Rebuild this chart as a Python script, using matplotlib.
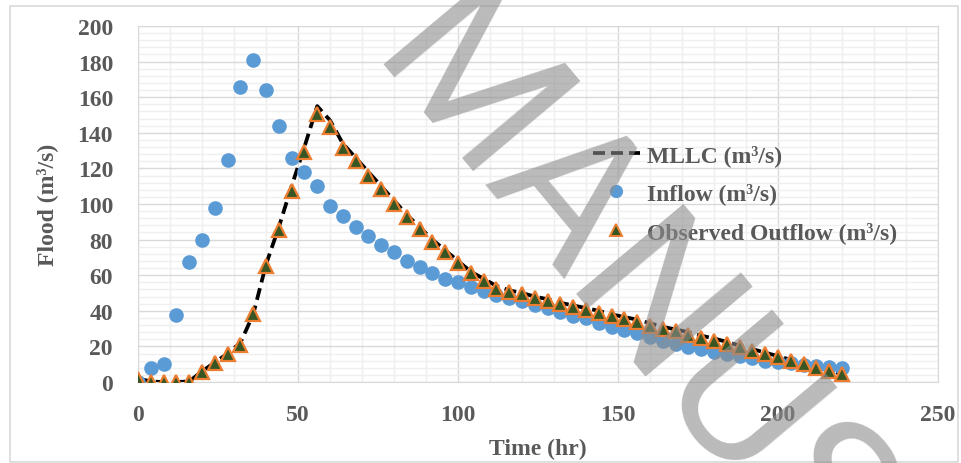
import matplotlib
matplotlib.use("Agg")
import matplotlib.pyplot as plt
from matplotlib.lines import Line2D
from matplotlib.patches import Rectangle
from matplotlib.ticker import MultipleLocator


# temps (hr), pas de 4 h
time = list(range(0, 221, 4))

inflow = [0, 7.7, 10.1, 37.8, 67.6, 79.8, 97.8, 124.7, 165.9, 180.9,
          164, 144, 125.7, 117.8, 110, 99, 93, 87, 82, 77,
          73, 68, 64.6, 61, 58, 56, 53.2, 51.3, 48.9, 47,
          45.7, 43.3, 41.4, 39.1, 37.3, 35.8, 33.3, 30.7, 29, 27.5,
          25.1, 23.2, 21.3, 19.5, 18.5, 16.7, 15.7, 14.4, 13.3, 12,
          11, 10.5, 9.7, 9.2, 8.3, 7.7]

observed = [1.7, 0, 0, 0, 0, 5.8, 10.5, 15.7, 20.8, 38.2,
            65.3, 85.4, 107.5, 129.4, 150.6, 143, 131.5, 124, 116, 108.6,
            100, 92.7, 86, 78.7, 73, 67, 61, 57, 52.5, 50.5,
            49.4, 47, 45.7, 43.8, 42, 40.6, 38.8, 37.1, 35.2, 33.5,
            31.6, 29.8, 28.8, 26.4, 24.5, 23.2, 21.3, 19.5, 17.6, 15.7,
            13.9, 12, 10.1, 7.7, 6.4, 4.5]

mllc = [2, 0.3, 0, 0, 0.3, 6, 11, 16, 22, 38,
        66, 87, 110, 132, 155, 147, 134, 126, 118, 110,
        102, 94, 87, 80, 74, 68, 62, 58, 54, 51.5,
        50, 48, 46.5, 44.5, 43, 41.5, 40, 38, 36.5, 35,
        33, 31, 29.5, 28, 26, 24.5, 22.5, 20.5, 18.5, 16.5,
        14.5, 12.5, 10.5, 8.5, 6.5, 4.5]

labels = ["MLLC (m³/s)", "Inflow (m³/s)", "Observed Outflow (m³/s)"]

txt_color = "#595959"
serif = "Liberation Serif"
dash = (0, (3.2, 1.6))

fig = plt.figure(figsize=(9.61, 4.64), dpi=100)
fig.patches.append(Rectangle((10 / 961, 1 / 464), 948 / 961, 456 / 464,
                             transform=fig.transFigure, fill=False,
                             edgecolor="#d9d9d9", linewidth=1.2))

ax = fig.add_axes([138 / 961, 81 / 464, 800 / 961, 356 / 464])

ax.plot(time, mllc, color="black", linestyle=dash, linewidth=2.7, zorder=3)
ax.plot(time, inflow, linestyle="none", marker="o", markersize=9.5,
        markerfacecolor="#5b9bd5", markeredgecolor="#5b9bd5", zorder=4)
ax.plot(time, observed, linestyle="none", marker="^", markersize=10,
        markerfacecolor="#375623", markeredgecolor="#ed7d31",
        markeredgewidth=1.6, zorder=5)

ax.set_xlim(0, 250)
ax.set_ylim(0, 200)
ax.xaxis.set_major_locator(MultipleLocator(50))
ax.yaxis.set_major_locator(MultipleLocator(20))
ax.xaxis.set_minor_locator(MultipleLocator(10))
ax.yaxis.set_minor_locator(MultipleLocator(4))
ax.grid(which="minor", color="#efefef", linewidth=1.0, zorder=0)
ax.grid(which="major", color="#d9d9d9", linewidth=1.0, zorder=1)
ax.set_axisbelow(True)
for s in ax.spines.values():
    s.set_color("#d9d9d9")
ax.tick_params(which="both", length=0)
ax.tick_params(axis="x", pad=16)
ax.tick_params(axis="y", pad=18)
for lab in ax.get_xticklabels() + ax.get_yticklabels():
    lab.set_fontfamily(serif)
    lab.set_fontweight("bold")
    lab.set_fontsize(17)
    lab.set_color(txt_color)

ax.set_xlabel("Time (hr)", fontfamily=serif, fontweight="bold", fontsize=17,
              color=txt_color, labelpad=9)
ax.set_ylabel("Flood (m³/s)", fontfamily=serif, fontweight="bold", fontsize=17,
              color=txt_color, labelpad=14)

handles = [
    Line2D([], [], color="black", linestyle=dash, linewidth=2.7),
    Line2D([], [], linestyle="none", marker="o", markersize=8.5,
           markerfacecolor="#5b9bd5", markeredgecolor="#5b9bd5"),
    Line2D([], [], linestyle="none", marker="^", markersize=8.5,
           markerfacecolor="#375623", markeredgecolor="#ed7d31", markeredgewidth=1.4),
]
leg = fig.legend(handles, labels, loc="upper left",
                 bbox_to_anchor=(581 / 961, 1 - 133 / 464),
                 frameon=False, handlelength=2.0, handletextpad=0.3,
                 labelspacing=0.7, borderpad=0,
                 prop={"family": serif, "weight": "bold", "size": 17})
for t in leg.get_texts():
    t.set_color(txt_color)

# filigrane gris semi-transparent
fig.text(366 / 961, 1 - 64 / 464, "MANUSCRIPT", rotation=-50, rotation_mode="anchor",
         ha="left", va="baseline", fontsize=142, fontfamily="Roboto",
         fontweight="normal", color="#8c8c8c", alpha=0.6, zorder=10)

fig.savefig("out.png", dpi=100)
